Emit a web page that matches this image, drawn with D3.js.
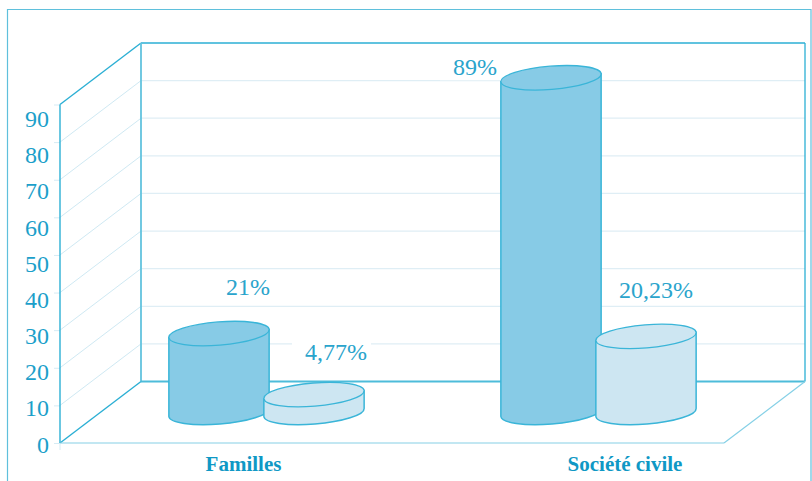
<!DOCTYPE html>
<html>
<head>
<meta charset="utf-8">
<script src="https://cdn.jsdelivr.net/npm/d3@7"></script>
<style>
  html, body { margin: 0; padding: 0; background: #fff; }
  svg { display: block; }
  text { font-family: "Liberation Serif", serif; }
</style>
</head>
<body>
<svg></svg>
<script>
// les données
const categories = ['Familles', 'Société civile'];
const series = ['a', 'b'];
const valeursA = [21, 89];
const valeursB = [4.77, 20.23];
const etiquettesA = ['21%', '89%'];
const etiquettesB = ['4,77%', '20,23%'];
const graduations = [0, 10, 20, 30, 40, 50, 60, 70, 80, 90];

const WIDTH = 812;
const HEIGHT = 481;

// profondeur de la perspective
const depthX = 81;
const depthY = -61.5;

const svg = d3.select('svg')
    .attr('width', WIDTH)
    .attr('height', HEIGHT);

const y = d3.scaleLinear().domain([0, 90]).range([443, 104.5]);
// les chiffres de l'axe ne sont pas alignés sur les graduations
const yLabel = d3.scaleLinear().domain([0, 90]).range([452, 126.5]);
const x0 = 60, x1 = 724;

// cadre
svg.append('path')
    .attr('d', `M7.5,481V9.5H811V481`)
    .attr('fill', 'none')
    .attr('stroke', '#5fc0dc')
    .attr('stroke-width', 1.2);

// grille
const grille = svg.append('g');
graduations.slice(1, -1).forEach(g => {
  grille.append('line')
      .attr('x1', x0).attr('y1', y(g))
      .attr('x2', x0 + depthX).attr('y2', y(g) + depthY)
      .attr('stroke', '#cfe9f3');
  grille.append('line')
      .attr('x1', x0 + depthX).attr('y1', y(g) + depthY)
      .attr('x2', x1 + depthX).attr('y2', y(g) + depthY)
      .attr('stroke', '#dfeef5')
      .attr('stroke-width', 1.3);
});

// axe vertical
const axe = d3.axisLeft(y).tickValues(graduations).tickSize(6).tickFormat(d => d);
const axeG = svg.append('g').attr('transform', `translate(${x0},0)`).call(axe);
axeG.select('.domain').remove();
axeG.selectAll('line').attr('stroke', '#d5ebf4');
axeG.selectAll('text')
    .attr('x', -11)
    .attr('dy', 0)
    .attr('y', d => yLabel(d) - y(d))
    .attr('fill', '#1c9fca')
    .style('font-size', '24px')
    .style('font-family', '"Liberation Serif", serif');

// murs et sol
const dark = '#2bafd4';
const mid = '#62c3de';
const murs = [
  [[x0, y(0)], [x0, y(90)], dark, 1.4],
  [[x0, y(90)], [x0 + depthX, y(90) + depthY], dark, 1.4],
  [[x0 + depthX, y(90) + depthY], [x1 + depthX, y(90) + depthY], dark, 1.3],
  [[x1 + depthX, y(90) + depthY], [x1 + depthX, y(0) + depthY], dark, 1.3],
  [[x0 + depthX, y(90) + depthY], [x0 + depthX, y(0) + depthY], mid, 1.8],
  [[x0 + depthX, y(0) + depthY], [x1 + depthX, y(0) + depthY], '#4dbcda', 1.8],
  [[x0, y(0)], [x0 + depthX, y(0) + depthY], dark, 1.4],
  [[x0, y(0)], [x1, y(0)], '#85d0e6', 1.2],
  [[x1, y(0)], [x1 + depthX, y(0) + depthY], '#85d0e6', 1.2]
];
svg.append('g').selectAll('line')
    .data(murs)
    .join('line')
    .attr('x1', d => d[0][0]).attr('y1', d => d[0][1])
    .attr('x2', d => d[1][0]).attr('y2', d => d[1][1])
    .attr('stroke', d => d[2])
    .attr('stroke-width', d => d[3]);
svg.append('line')
    .attr('x1', x0).attr('y1', y(0))
    .attr('x2', x0).attr('y2', y(0) + 7)
    .attr('stroke', '#d5ebf4');

// les cylindres sont à mi-profondeur
const xCat = d3.scaleBand()
    .domain(categories)
    .range([x0 + depthX / 2, x1 + depthX / 2]);
const xSerie = d3.scalePoint()
    .domain(series)
    .range([-47.5, 47.5]);
const hauteur = v => y(0) - y(v);
const baseY = 412.5;
const rx = 50.3, ry = 11.6, tilt = -4.6;
const cosT = Math.cos(tilt * Math.PI / 180), sinT = Math.sin(tilt * Math.PI / 180);

const barres = [];
categories.forEach((c, i) => {
  barres.push({ cat: c, serie: 'a', value: valeursA[i], label: etiquettesA[i], fill: '#87cbe6' });
  barres.push({ cat: c, serie: 'b', value: valeursB[i], label: etiquettesB[i], fill: '#cde6f2' });
});

// décalage des étiquettes par rapport au haut du cylindre
const decalage = {
  '21%': [29, -39],
  '4,77%': [22, -35],
  '89%': [-76, -2.5],
  '20,23%': [10, -38.5]
};

// étiquettes de valeur, fond blanc qui coupe la grille
const etiquettes = svg.append('g');
barres.forEach(b => {
  const cx = xCat(b.cat) + xCat.bandwidth() / 2 + xSerie(b.serie);
  const topY = baseY - hauteur(b.value);
  const t = etiquettes.append('text')
      .attr('x', cx + decalage[b.label][0])
      .attr('y', topY + decalage[b.label][1])
      .attr('text-anchor', 'middle')
      .attr('fill', '#2aa4cc')
      .style('font-size', '24px')
      .text(b.label);
  const box = t.node().getBBox();
  etiquettes.insert('rect', 'text')
      .attr('x', box.x - 13).attr('y', box.y)
      .attr('width', box.width + 17).attr('height', box.height)
      .attr('fill', '#fff');
});

// cylindres
svg.append('g').selectAll('g')
    .data(barres)
    .join('g')
    .each(function(b) {
      const cx = xCat(b.cat) + xCat.bandwidth() / 2 + xSerie(b.serie);
      const topY = baseY - hauteur(b.value);
      const dx = rx * cosT, dy = rx * sinT;
      const g = d3.select(this);
      g.append('path')
          .attr('d', `M${cx - dx},${topY - dy}L${cx - dx},${baseY - dy}`
            + `A${rx},${ry} ${tilt} 0 0 ${cx + dx},${baseY + dy}L${cx + dx},${topY + dy}Z`)
          .attr('fill', b.fill)
          .attr('stroke', '#3ab5d8')
          .attr('stroke-width', 1.5);
      g.append('ellipse')
          .attr('transform', `translate(${cx},${topY}) rotate(${tilt})`)
          .attr('rx', rx).attr('ry', ry)
          .attr('fill', b.fill)
          .attr('stroke', '#3ab5d8')
          .attr('stroke-width', 1.3);
    });

// noms des catégories
const decalageCat = [-23, 26.5];
svg.append('g').selectAll('text')
    .data(categories)
    .join('text')
    .attr('x', (c, i) => xCat(c) + xCat.bandwidth() / 2 + decalageCat[i])
    .attr('y', 471)
    .attr('text-anchor', 'middle')
    .attr('fill', '#0f98c5')
    .style('font-size', '21px')
    .style('font-weight', 'bold')
    .text(c => c);
</script>
</body>
</html>
